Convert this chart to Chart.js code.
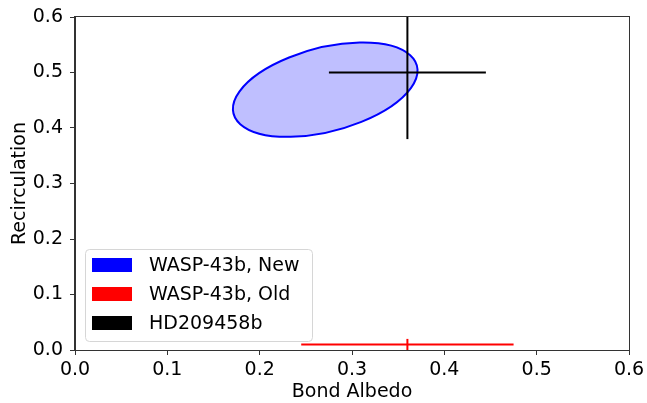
<!DOCTYPE html>
<html>
<head>
<meta charset="utf-8">
<script src="https://cdn.jsdelivr.net/npm/chart.js@4"></script>
<style>
  html, body { margin: 0; padding: 0; background: #fff; }
  #wrap { width: 647px; height: 403px; }
</style>
</head>
<body>
<div id="wrap"><canvas id="myChart" width="647" height="403"></canvas></div>
<script>
// WASP-43b, New : confidence ellipse (data units)
const newCenter = [0.271, 0.469];
const newAxes = [0.111, 0.070];
const newAngleDeg = 34;

// WASP-43b, Old : point with error bars
const oldCenter = [0.36, 0.01];
const oldErrX = 0.115;
const oldErrY = 0.01;

// HD209458b : point with error bars
const hdCenter = [0.36, 0.50];
const hdErrX = 0.085;
const hdErrY = 0.12;

const legendLabels = ["WASP-43b, New", "WASP-43b, Old", "HD209458b"];
const legendColors = ["#0000ff", "#ff0000", "#000000"];

const xTicks = [0.0, 0.1, 0.2, 0.3, 0.4, 0.5, 0.6];
const yTicks = [0.0, 0.1, 0.2, 0.3, 0.4, 0.5, 0.6];

const fontFam = "'DejaVu Sans', sans-serif";
const fontSize = 19;

function errorBar(c, ex, ey) {
	return {
		h: [{x: c[0] - ex, y: c[1]}, {x: c[0] + ex, y: c[1]}],
		v: [{x: c[0], y: c[1] - ey}, {x: c[0], y: c[1] + ey}]
	};
}

let oldBar = errorBar(oldCenter, oldErrX, oldErrY);
let hdBar = errorBar(hdCenter, hdErrX, hdErrY);

function lineSet(data, color) {
	return {
		data: data,
		borderColor: color,
		borderWidth: 2,
		pointRadius: 0,
		fill: false,
		showLine: true
	};
}

// ellipse, drawn through the scales
const ellipsePlugin = {
	id: 'ellipse',
	beforeDatasetsDraw(chart) {
		let ctx = chart.ctx;
		let xs = chart.scales.x, ys = chart.scales.y;
		let area = chart.chartArea;
		let kx = xs.getPixelForValue(1) - xs.getPixelForValue(0);
		let ky = ys.getPixelForValue(0) - ys.getPixelForValue(1);
		ctx.save();
		ctx.beginPath();
		ctx.rect(area.left, area.top, area.right - area.left, area.bottom - area.top);
		ctx.clip();
		ctx.save();
		ctx.translate(xs.getPixelForValue(newCenter[0]), ys.getPixelForValue(newCenter[1]));
		ctx.scale(kx, -ky);
		ctx.rotate(newAngleDeg * Math.PI / 180);
		ctx.beginPath();
		ctx.ellipse(0, 0, newAxes[0], newAxes[1], 0, 0, 2 * Math.PI);
		ctx.restore();
		ctx.fillStyle = 'rgba(0, 0, 255, 0.25)';
		ctx.fill();
		ctx.strokeStyle = '#0000ff';
		ctx.lineWidth = 2;
		ctx.stroke();
		ctx.restore();
	}
};

// frame + matplotlib-style legend
const framePlugin = {
	id: 'frame',
	afterDraw(chart) {
		let ctx = chart.ctx;
		let a = chart.chartArea;
		ctx.save();
		ctx.strokeStyle = '#333';
		ctx.lineWidth = 1;
		ctx.strokeRect(Math.round(a.left) - 0.5, Math.round(a.top) - 0.5,
			Math.round(a.right - a.left) + 1, Math.round(a.bottom - a.top) + 1);

		// legend box
		let bx = 85.5, by = 249.5, bw = 227, bh = 92;
		ctx.fillStyle = 'rgba(255,255,255,0.8)';
		ctx.strokeStyle = '#d6d6d6';
		ctx.beginPath();
		ctx.roundRect(bx, by, bw, bh, 4);
		ctx.fill();
		ctx.stroke();

		ctx.font = fontSize + 'px ' + fontFam;
		ctx.textBaseline = 'middle';
		ctx.textAlign = 'left';
		for (let i = 0; i < legendLabels.length; i++) {
			let cy = 265 + i * 29;
			ctx.fillStyle = legendColors[i];
			ctx.fillRect(92, cy - 7, 40, 14);
			ctx.fillStyle = '#000';
			ctx.fillText(legendLabels[i], 149, cy + 1);
		}
		ctx.restore();
	}
};

let chart = new Chart('myChart', {
	type: 'scatter',
	data: {
		datasets: [
			lineSet(hdBar.h, '#000'),
			lineSet(hdBar.v, '#000'),
			lineSet(oldBar.h, '#ff0000'),
			lineSet(oldBar.v, '#ff0000')
		]
	},
	options: {
		responsive: false,
		animation: false,
		layout: {
			padding: {top: 17, right: 18, left: 0, bottom: 0}
		},
		scales: {
			x: {
				type: 'linear',
				min: 0,
				max: 0.6,
				afterBuildTicks(scale) { scale.ticks = xTicks.map(v => ({value: v})); },
				afterFit(scale) {
					scale.height = 53;
					scale.paddingLeft = 0;
					scale.paddingRight = 0;
				},
				ticks: {
					color: '#000',
					font: {family: fontFam, size: fontSize},
					padding: 4,
					maxRotation: 0,
					callback: v => v.toFixed(1)
				},
				grid: {drawOnChartArea: false, drawTicks: true, tickLength: 5, color: '#333'},
				border: {display: true, color: '#333'},
				title: {
					display: true,
					text: 'Bond Albedo',
					color: '#000',
					font: {family: fontFam, size: fontSize},
					padding: {top: 1, bottom: 0}
				}
			},
			y: {
				type: 'linear',
				min: 0,
				max: 0.6,
				afterBuildTicks(scale) { scale.ticks = yTicks.map(v => ({value: v})); },
				afterFit(scale) {
					scale.width = 75;
					scale.paddingTop = 0;
					scale.paddingBottom = 0;
				},
				ticks: {
					color: '#000',
					font: {family: fontFam, size: fontSize},
					padding: 7,
					callback: v => v.toFixed(1)
				},
				grid: {drawOnChartArea: false, drawTicks: true, tickLength: 5, color: '#333'},
				border: {display: true, color: '#333'},
				title: {
					display: true,
					text: 'Recirculation',
					color: '#000',
					font: {family: fontFam, size: fontSize},
					padding: {top: 9, bottom: 0}
				}
			}
		},
		plugins: {
			legend: {display: false},
			tooltip: {enabled: false}
		}
	},
	plugins: [ellipsePlugin, framePlugin]
});
</script>
</body>
</html>
